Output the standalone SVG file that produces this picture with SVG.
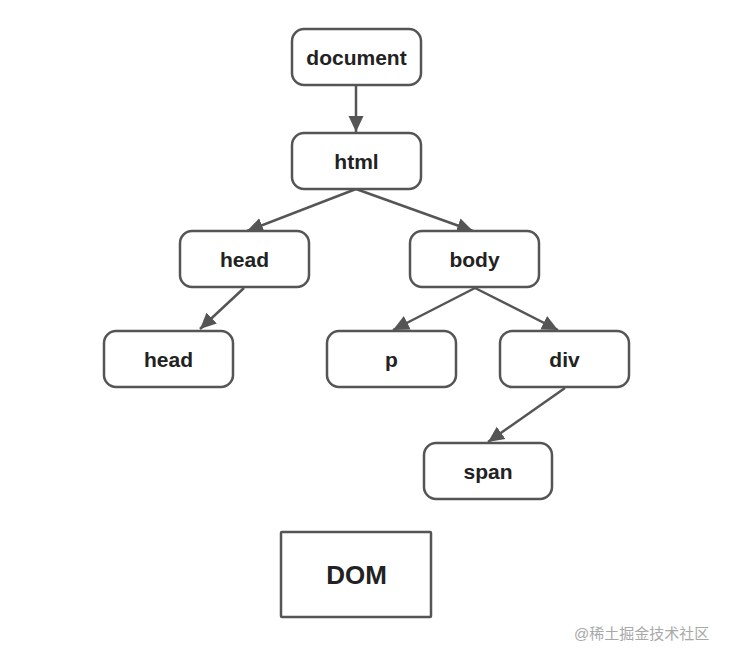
<svg xmlns="http://www.w3.org/2000/svg" width="730" height="660" viewBox="0 0 730 660">
<defs>
<style>
.node rect{fill:#fff;stroke:#555;stroke-width:2.5}
.node text{font-family:"Liberation Sans",Arial,sans-serif;font-weight:bold;font-size:21px;fill:#222;text-anchor:middle;dominant-baseline:central}
.edge{stroke:#555;stroke-width:2.5;fill:none;marker-end:url(#arr)}
.wm{font-family:"Liberation Sans","Noto Sans CJK SC",sans-serif;font-size:15px;fill:#a8a8a8}
</style>
<marker id="arr" markerUnits="userSpaceOnUse" markerWidth="18" markerHeight="18" viewBox="0 0 18 18" refX="16" refY="9" orient="auto">
<path d="M0,1.5 L16,9 L0,16.5 Z" fill="#555"/>
</marker>
</defs>
<rect width="730" height="660" fill="#fff"/>
<g id="connectors">
<path class="edge" d="M356,85 L356,132"/>
<path class="edge" d="M356,189 L247,231"/>
<path class="edge" d="M356,189 L473,231"/>
<path class="edge" d="M244,288 L200,329"/>
<path class="edge" d="M475,288 L393,330"/>
<path class="edge" d="M475,288 L558,330"/>
<path class="edge" d="M565,388 L488,442"/>
</g>
<g id="document" class="node"><rect x="292" y="29" width="129" height="56" rx="12"/><text x="356.5" y="57">document</text></g>
<g id="html" class="node"><rect x="292" y="133" width="129" height="56" rx="12"/><text x="356.5" y="161">html</text></g>
<g id="head1" class="node"><rect x="180" y="231" width="129" height="56" rx="12"/><text x="244.5" y="259">head</text></g>
<g id="body" class="node"><rect x="410" y="231" width="129" height="56" rx="12"/><text x="474.5" y="259">body</text></g>
<g id="head2" class="node"><rect x="104" y="331" width="129" height="56" rx="12"/><text x="168.5" y="359">head</text></g>
<g id="p" class="node"><rect x="327" y="331" width="129" height="56" rx="12"/><text x="391.5" y="359">p</text></g>
<g id="div" class="node"><rect x="500" y="331" width="129" height="56" rx="12"/><text x="564.5" y="359">div</text></g>
<g id="span" class="node"><rect x="424" y="443" width="128" height="56" rx="12"/><text x="488" y="471">span</text></g>
<g id="dom" class="node"><rect x="281" y="532" width="150" height="85" rx="1"/><text x="356.5" y="575" style="font-size:26px">DOM</text></g>
<text class="wm" x="574" y="639">@稀土掘金技术社区</text>
</svg>
